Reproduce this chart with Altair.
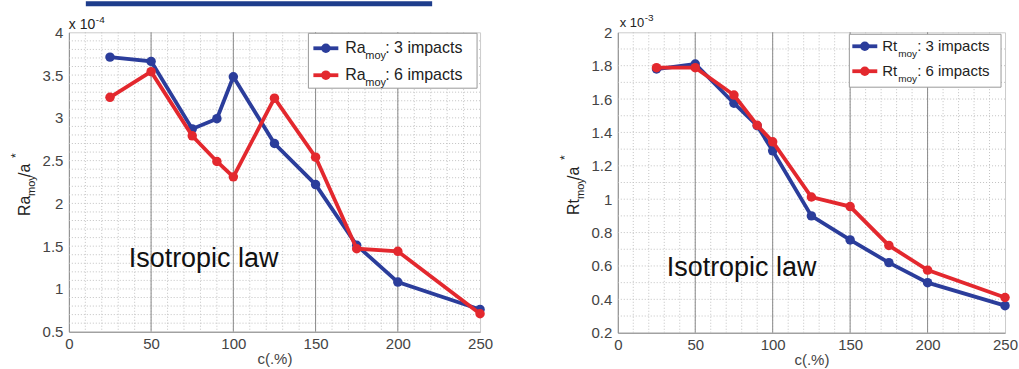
import altair as alt
import pandas as pd

# ---------------- data ----------------
c_vals = [25, 50, 75, 90, 100, 125, 150, 175, 200, 250]
ra_3 = [3.71, 3.66, 2.87, 2.99, 3.48, 2.70, 2.22, 1.51, 1.08, 0.76]   # x 1e-4
ra_6 = [3.24, 3.54, 2.79, 2.49, 2.31, 3.23, 2.54, 1.47, 1.44, 0.71]   # x 1e-4
rt_3 = [1.78, 1.81, 1.575, 1.44, 1.29, 0.90, 0.756, 0.62, 0.50, 0.362]  # x 1e-3
rt_6 = [1.788, 1.788, 1.624, 1.443, 1.344, 1.013, 0.956, 0.723, 0.575, 0.411]  # x 1e-3

x_ticks = [0, 50, 100, 150, 200, 250]
ra_ticks = [0.5, 1, 1.5, 2, 2.5, 3, 3.5, 4]
rt_ticks = [0.2, 0.4, 0.6, 0.8, 1, 1.2, 1.4, 1.6, 1.8, 2]
major_v = [50, 100, 150, 200]
minor_x = [10 * i for i in range(1, 25)]
minor_ra = [round(0.5 + 0.1 * i, 2) for i in range(1, 35)]
minor_rt = [round(0.2 + 0.1 * i, 2) for i in range(1, 18)]
series_labels = [": 3 impacts", ": 6 impacts"]
colors = ["#2b3d9b", "#e3282e"]
annot = "Isotropic law"

FONT = "Liberation Sans"
one = pd.DataFrame({"k": [0]})


def txt(x, y, s, size, angle=0, color="#222"):
    return alt.Chart(one).mark_text(
        align="left", baseline="alphabetic", fontSize=size, font=FONT,
        color=color, angle=angle
    ).encode(x=alt.value(x), y=alt.value(y), text=alt.value(s))


def panel(v3, v6, ymin, ymax, yticks, minor_y, w, h, sym, exp_txt, exp_pos,
          iso_xy, leg, ttl, extras):
    xs = alt.Scale(domain=[0, 250], nice=False, zero=False)
    ys = alt.Scale(domain=[ymin, ymax], nice=False, zero=False)

    xaxis = alt.Axis(values=x_ticks, format="d", grid=False, ticks=False,
                     domainColor="#8a8a8a", labelFont=FONT, labelFontSize=15,
                     labelColor="#444", labelPadding=5, labelOverlap=False,
                     labelFlush=False, title="c(.%)", titleFont=FONT,
                     titleFontSize=15, titleFontWeight="normal",
                     titleColor="#444", titlePadding=0)
    yaxis = alt.Axis(values=yticks, format="~g", grid=False, ticks=False,
                     domainColor="#8a8a8a", labelFont=FONT, labelFontSize=15,
                     labelColor="#444", labelPadding=6, labelOverlap=False,
                     labelFlush=False, title=None)

    def X(f):
        return alt.X(f, scale=xs, axis=xaxis)

    def Y(f):
        return alt.Y(f, scale=ys, axis=yaxis)

    layers = []
    layers.append(alt.Chart(pd.DataFrame({"g": minor_x})).mark_rule(
        color="#c2c2c2", strokeDash=[1, 2], strokeWidth=1).encode(x=X("g:Q")))
    layers.append(alt.Chart(pd.DataFrame({"g": minor_y})).mark_rule(
        color="#c2c2c2", strokeDash=[1, 2], strokeWidth=1).encode(y=Y("g:Q")))
    layers.append(alt.Chart(pd.DataFrame({"g": major_v})).mark_rule(
        color="#8a8a8a", strokeWidth=1).encode(x=X("g:Q")))

    for i, vals in enumerate([v3, v6]):
        df = pd.DataFrame({"c": c_vals, "v": vals})
        base = alt.Chart(df).encode(x=X("c:Q"), y=Y("v:Q"))
        layers.append(base.mark_line(color=colors[i], strokeWidth=3.8))
        layers.append(base.mark_point(color=colors[i], filled=True, size=90,
                                      opacity=1, shape="circle"))

    # annotation
    layers.append(alt.Chart(pd.DataFrame({"x": [iso_xy[0]], "y": [iso_xy[1]],
                                          "t": [annot]})).mark_text(
        align="left", baseline="alphabetic", fontSize=27, font=FONT,
        color="#111").encode(x=X("x:Q"), y=Y("y:Q"), text="t:N"))

    # legend (drawn by hand to allow the subscript)
    bx0, bx1, by0, by1 = leg["box"]
    layers.append(alt.Chart(one).mark_rect(fill="white", stroke="#9a9a9a",
                                           strokeWidth=1).encode(
        x=alt.value(bx0), x2=alt.value(bx1), y=alt.value(by0), y2=alt.value(by1)))
    for i in range(2):
        ry = leg["rows"][i]
        layers.append(alt.Chart(one).mark_rule(color=colors[i], strokeWidth=3.8).encode(
            x=alt.value(leg["sx"][0]), x2=alt.value(leg["sx"][1]), y=alt.value(ry)))
        layers.append(alt.Chart(one).mark_point(color=colors[i], filled=True,
                                                size=90, opacity=1).encode(
            x=alt.value((leg["sx"][0] + leg["sx"][1]) / 2), y=alt.value(ry)))
        layers.append(txt(leg["t1"], ry + 5, sym, leg["fs"]))
        layers.append(txt(leg["t2"], ry + 11, "moy", leg["fs"] - 5))
        layers.append(txt(leg["t3"], ry + 5, series_labels[i], leg["fs"]))

    # rotated y title: Sym_moy / a*
    layers.append(txt(-39, ttl[0], sym, 16, angle=270))
    layers.append(txt(-34, ttl[1], "moy", 11, angle=270))
    layers.append(txt(-39, ttl[2], "/a", 16, angle=270))
    layers.append(txt(-49, ttl[3], "*", 12, angle=270))

    # exponent label
    ex, ey, ex2, ey2, efs = exp_pos
    layers.append(txt(ex, ey, "x 10", efs))
    layers.append(txt(ex2, ey2, exp_txt, 10))

    layers.extend(extras)
    return alt.layer(*layers).properties(width=w, height=h)


white = "#ffffff"
left_extras = [
    alt.Chart(one).mark_rect(color="#1e3d8c").encode(
        x=alt.value(17), x2=alt.value(364), y=alt.value(-31), y2=alt.value(-26)),
    alt.Chart(one).mark_rule(color=white, strokeWidth=0.1).encode(
        x=alt.value(-68), y=alt.value(100), y2=alt.value(110)),
    alt.Chart(one).mark_rule(color=white, strokeWidth=0.1).encode(
        x=alt.value(100), x2=alt.value(110), y=alt.value(338)),
]
right_extras = [
    alt.Chart(one).mark_rule(color=white, strokeWidth=0.1).encode(
        x=alt.value(401), y=alt.value(100), y2=alt.value(110)),
]

left = panel(ra_3, ra_6, 0.5, 4, ra_ticks, minor_ra, 412, 300, "Ra", "-4",
             (0, -3, 27, -9, 14), (36.4, 1.26),
             {"box": (240, 409, 1, 56), "rows": [16, 43], "sx": (245, 270),
              "t1": 277, "t2": 297, "t3": 317, "fs": 16},
             (184, 164, 145, 126), left_extras)

right = panel(rt_3, rt_6, 0.2, 2, rt_ticks, minor_rt, 388, 301, "Rt", "-3",
              (2, -5, 27, -11, 13), (31.6, 0.54),
              {"box": (232, 384, 2, 55), "rows": [14, 39], "sx": (235, 260),
               "t1": 265, "t2": 281, "t3": 300, "fs": 15},
              (183, 167, 148, 128), right_extras)

chart = alt.hconcat(left, right, spacing=138, bounds="flush").properties(
    padding=0
).configure_view(stroke="#cccccc")

chart.save("out.html", embed_options={"renderer": "svg", "actions": False})
